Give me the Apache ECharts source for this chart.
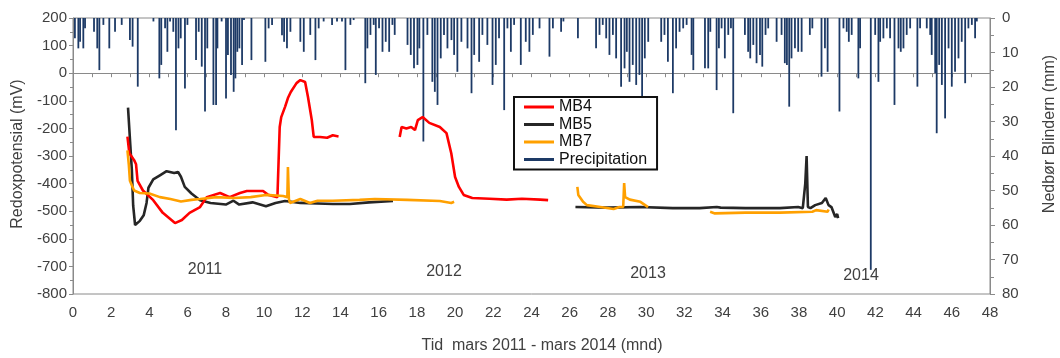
<!DOCTYPE html>
<html><head><meta charset="utf-8">
<script src="https://cdn.jsdelivr.net/npm/echarts@6/dist/echarts.min.js"></script>
<style>html,body{margin:0;padding:0;background:#fff}#c{width:1060px;height:358px}</style>
</head><body><div id="c"></div>
<script>
// ---- data (months since March 2011) ----
const mb4Month = [2.85,2.95,3.05,3.2,3.3,3.38,3.66,4.2,4.7,5.34,5.7,6.1,6.65,7.0,7.7,8.2,8.74,9.1,9.95,10.2,10.7,10.8,10.82,10.9,11.1,11.25,11.4,11.7,11.9,12.15,12.3,12.5,12.6,12.93,13.3,13.6,13.9,
  null,
  17.1,17.2,17.45,17.7,17.9,18.05,18.3,18.65,19.2,19.55,19.8,20.0,20.2,20.45,20.9,21.8,22.7,23.5,24.45,24.87];
const mb4Value = [-230,-290,-300,-315,-330,-390,-425,-460,-506,-543,-532,-506,-485,-449,-434,-449,-434,-427,-427,-440,-449,-450,-195,-159,-122,-90,-68,-36,-25,-32,-86,-170,-231,-231,-234,-225,-229,
  null,
  -231,-195,-200,-195,-206,-170,-159,-180,-195,-217,-290,-376,-412,-441,-452,-455,-458,-455,-458,-460];

const mb5Month = [2.88,3.0,3.08,3.15,3.25,3.35,3.5,3.7,3.85,3.95,4.2,4.55,4.9,5.3,5.5,5.65,5.85,6.2,6.65,7.2,8.0,8.4,8.7,9.4,10.1,10.6,11.1,11.9,12.8,13.6,14.5,15.5,16.75,
  null,
  26.3,28.0,29.7,31.4,32.8,33.7,33.9,35.2,37.0,37.96,38.2,38.33,38.4,38.47,38.6,38.85,39.2,39.4,39.55,39.7,39.9,40.0,40.05];
const mb5Value = [-125,-260,-350,-480,-550,-555,-535,-515,-470,-415,-385,-370,-355,-362,-358,-375,-412,-436,-460,-470,-476,-462,-476,-468,-482,-470,-463,-470,-472,-474,-474,-468,-463,
  null,
  -485,-487,-485,-489,-489,-485,-487,-489,-489,-485,-489,-400,-300,-485,-489,-478,-470,-452,-478,-485,-521,-510,-525];

const mb7Month = [2.85,2.92,2.98,3.1,3.2,3.5,4.0,4.55,5.1,5.65,6.2,6.65,7.5,8.4,9.3,10.1,11.0,11.22,11.25,11.3,11.36,11.9,12.4,12.8,13.6,15.0,15.8,17.5,19.2,19.8,19.95,
  null,
  26.4,26.45,26.7,26.9,27.6,28.3,28.6,28.8,28.85,28.9,29.15,29.7,30.1,
  null,
  33.35,33.6,35.2,37.0,38.7,38.9,39.5,39.55];
const mb7Value = [-280,-330,-390,-410,-425,-434,-436,-449,-456,-465,-459,-456,-449,-452,-449,-441,-445,-449,-340,-455,-470,-456,-470,-462,-462,-459,-456,-459,-463,-470,-466,
  null,
  -412,-441,-466,-478,-485,-492,-485,-485,-398,-449,-458,-466,-485,
  null,
  -502,-508,-505,-505,-502,-496,-502,-494];

const precipMonth = [0.10,0.28,0.37,0.54,0.63,1.10,1.27,1.38,1.59,1.90,2.20,2.55,2.98,3.12,3.39,4.21,4.52,4.62,4.82,4.94,5.08,5.25,5.39,5.52,5.64,5.86,5.99,6.44,6.58,6.74,6.91,7.03,7.35,7.49,7.56,7.78,
  8.01,8.11,8.27,8.41,8.50,8.60,8.71,8.85,8.95,9.34,10.07,10.24,10.42,10.94,11.05,11.20,11.38,11.90,12.08,12.42,12.69,12.86,13.12,13.56,13.82,14.08,14.26,14.52,14.69,15.30,15.41,15.57,15.74,
  15.85,16.02,16.20,16.37,16.55,16.72,16.84,17.51,17.68,17.85,18.03,18.13,18.34,18.55,18.81,18.94,19.08,19.25,19.42,19.60,19.81,19.95,20.12,20.33,20.65,20.86,21.00,21.26,21.43,21.69,21.96,22.13,22.30,22.57,22.74,22.92,23.09,23.44,23.70,
  23.89,24.07,24.42,24.94,25.12,25.55,25.67,26.43,27.38,27.56,27.73,27.91,28.08,28.26,28.43,28.69,28.87,28.99,29.13,29.30,29.48,29.65,29.79,29.93,30.11,30.79,30.96,31.14,31.40,31.57,31.75,
  31.94,32.12,32.38,32.47,33.08,33.25,33.36,33.69,33.81,33.95,34.12,34.30,34.44,34.56,35.17,35.34,35.45,35.61,35.78,35.96,36.08,36.25,36.39,36.83,37.09,37.26,37.37,37.49,37.61,37.79,37.96,38.14,38.57,38.70,39.18,39.36,39.50,
  40.12,40.33,40.50,40.61,40.76,41.11,41.20,41.76,41.99,42.16,42.25,42.42,42.60,42.77,43.00,43.21,43.33,43.47,43.64,43.82,44.20,44.34,44.69,44.87,44.95,45.13,45.21,45.34,45.48,45.65,45.83,46.00,46.17,46.35,46.52,46.70,46.87,47.05,47.22,47.31];
const precipMM = [5.9,8.8,6.9,8.8,3.0,4.0,8.8,15.1,2.0,8.8,4.0,2.0,6.4,8.3,19.9,1.0,17.5,13.6,3.0,9.8,1.0,4.0,32.5,8.8,5.9,20.4,2.0,12.2,4.0,14.1,27.1,8.8,25.2,25.2,8.8,1.0,
  23.3,10.7,16.5,21.4,17.5,9.8,8.8,13.6,0.6,12.2,12.7,3.0,2.0,5.0,6.9,8.8,4.0,6.9,9.8,4.9,12.2,3.0,1.0,2.0,1.0,1.0,15.1,2.0,0.6,18.9,8.8,4.9,2.0,
  16.5,3.0,9.8,6.9,9.8,2.0,4.9,7.8,10.7,14.6,13.6,8.8,35.8,4.9,18.5,21.4,25.2,11.7,4.9,8.8,6.4,10.7,15.6,6.9,8.8,21.8,10.7,12.7,4.9,7.8,19.4,13.6,5.9,26.7,3.0,9.8,2.0,13.6,6.9,
  9.8,4.9,3.0,11.2,3.0,4.0,1.0,5.9,8.8,4.9,2.0,5.9,10.7,4.9,11.7,19.9,14.6,9.8,18.5,13.6,19.4,16.5,22.8,11.7,6.9,6.9,4.9,12.7,21.8,8.8,4.0,
  3.0,2.0,10.7,15.1,14.6,14.6,4.0,20.9,8.8,3.0,11.7,4.9,3.0,27.6,4.9,9.8,11.7,7.8,13.1,10.7,14.1,4.9,3.0,6.9,4.9,13.1,13.6,25.7,11.7,8.8,9.8,9.8,4.9,3.0,17.0,8.8,15.6,
  27.1,3.0,4.0,6.9,4.9,17.5,8.8,73,4.9,18.5,6.9,5.9,3.0,5.9,25.2,8.8,9.8,8.8,4.9,3.0,19.9,3.0,3.0,4.9,10.7,16.0,33.4,13.6,19.4,29.1,8.8,19.9,15.6,11.7,6.9,18.9,3.0,2.0,5.9,1.0];

const yearLabels = ['2011','2012','2013','2014'];
const seriesNames = ['MB4','MB5','MB7','Precipitation'];

function pairs(ms, vs){ return ms.map((m,i)=> (m===null||vs[i]===null) ? ['-','-'] : [m, vs[i]]); }

const FONT = "'Liberation Sans', Arial, sans-serif";
const AX = '#8a8a8a', TXT = '#404040', NAVY = '#1d3a66';
const chart = echarts.init(document.getElementById('c'), null, {renderer:'canvas'});
chart.setOption({
  animation:false,
  backgroundColor:'#fff',
  textStyle:{fontFamily:FONT},
  grid:{left:73,right:70,top:18,bottom:64,show:true,borderColor:AX,borderWidth:1,containLabel:false,outerBoundsMode:'none'},
  legend:{
    data:seriesNames, orient:'vertical', left:514, top:97, icon:'rect',
    padding:[2,10,2,10], itemGap:1.5, itemWidth:30, itemHeight:3,
    borderColor:'#111', borderWidth:2, backgroundColor:'#fff',
    textStyle:{fontFamily:FONT,fontSize:16,color:'#111',lineHeight:16}
  },
  xAxis:{type:'value',min:0,max:48,interval:2,
    axisLine:{lineStyle:{color:AX}}, axisTick:{length:4,lineStyle:{color:AX}},
    minorTick:{show:true,splitNumber:2,length:4,lineStyle:{color:AX}},
    splitLine:{show:false},
    axisLabel:{fontFamily:FONT,fontSize:15,color:TXT,margin:11}},
  yAxis:[
    {type:'value',min:-800,max:200,interval:100,position:'left',
      axisLine:{show:true,lineStyle:{color:AX}}, axisTick:{show:true,length:4,lineStyle:{color:AX}},
      minorTick:{show:true,splitNumber:2,length:3,lineStyle:{color:AX}},
      splitLine:{show:false},
      axisLabel:{fontFamily:FONT,fontSize:15,color:TXT,margin:6}},
    {type:'value',min:0,max:80,interval:10,inverse:true,position:'right',
      axisLine:{show:true,lineStyle:{color:AX}}, axisTick:{show:true,length:5,lineStyle:{color:AX}},
      minorTick:{show:true,splitNumber:2,length:4,lineStyle:{color:AX}},
      splitLine:{show:false},
      axisLabel:{fontFamily:FONT,fontSize:15,color:TXT,margin:12}}
  ],
  series:[
    {name:'precip-bars',type:'bar',yAxisIndex:1,barWidth:1.8,data:pairs(precipMonth,precipMM),
      itemStyle:{color:NAVY},silent:true,z:1},
    {name:'MB4',type:'line',showSymbol:false,symbol:'none',data:pairs(mb4Month,mb4Value),
      lineStyle:{color:'#ff0000',width:2.6},itemStyle:{color:'#ff0000'},z:4},
    {name:'MB5',type:'line',showSymbol:false,symbol:'none',data:pairs(mb5Month,mb5Value),
      lineStyle:{color:'#262626',width:2.6},itemStyle:{color:'#262626'},z:3},
    {name:'MB7',type:'line',showSymbol:false,symbol:'none',data:pairs(mb7Month,mb7Value),
      lineStyle:{color:'#ffa000',width:2.6},itemStyle:{color:'#ffa000'},z:5},
    {name:'Precipitation',type:'line',yAxisIndex:1,showSymbol:false,symbol:'none',data:[],
      lineStyle:{color:NAVY,width:1.5},itemStyle:{color:NAVY}}
  ],
  graphic:[
    {type:'text',x:18,y:154,rotation:Math.PI/2,style:{text:'Redoxpotensial (mV)',font:'16px '+FONT,fill:TXT,align:'center',verticalAlign:'middle'}},
    {type:'text',x:1050,y:134,rotation:Math.PI/2,style:{text:'Nedbør Blindern (mm)',font:'16px '+FONT,fill:TXT,align:'center',verticalAlign:'middle'}},
    {type:'text',x:542,y:346,style:{text:'Tid  mars 2011 - mars 2014 (mnd)',font:'16px '+FONT,fill:TXT,align:'center',verticalAlign:'middle'}},
    {type:'text',x:205,y:270,style:{text:yearLabels[0],font:'16px '+FONT,fill:TXT,align:'center',verticalAlign:'middle'}},
    {type:'text',x:444,y:272,style:{text:yearLabels[1],font:'16px '+FONT,fill:TXT,align:'center',verticalAlign:'middle'}},
    {type:'text',x:648,y:274,style:{text:yearLabels[2],font:'16px '+FONT,fill:TXT,align:'center',verticalAlign:'middle'}},
    {type:'text',x:861,y:276,style:{text:yearLabels[3],font:'16px '+FONT,fill:TXT,align:'center',verticalAlign:'middle'}}
  ]
});
</script></body></html>
